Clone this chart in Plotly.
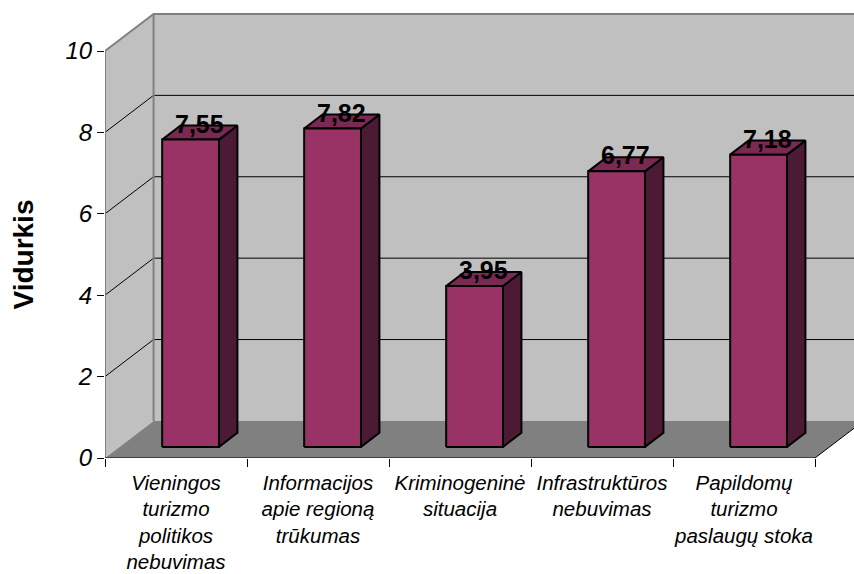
import plotly.graph_objects as go

# Chart data
categories = [
    "Vieningos<br>turizmo<br>politikos<br>nebuvimas",
    "Informacijos<br>apie regioną<br>trūkumas",
    "Kriminogeninė<br>situacija",
    "Infrastruktūros<br>nebuvimas",
    "Papildomų<br>turizmo<br>paslaugų stoka",
]
values = [7.55, 7.82, 3.95, 6.77, 7.18]
value_labels = ["7,55", "7,82", "3,95", "6,77", "7,18"]
y_ticks = [0, 2, 4, 6, 8, 10]
y_title = "Vidurkis"

# Oblique 3D projection, expressed in axis units
DX, DY = 0.342, 0.91          # full depth shift of the back wall
BAR_W = 0.4                   # bar width (category units)
D_FRONT, D_BACK = 0.30, 0.68  # bar depth span (fraction of full depth)
N = len(categories)
VMAX = y_ticks[-1]

W, H = 854, 574
ML, MB = 105, 116
X_RANGE = [0, (W - ML) / 142.0]
Y_RANGE = [0, (H - MB) / 40.7]

WALL = "#c0c0c0"
FLOOR = "#808080"
EDGE = "#808080"
FRONT = "#993366"
SIDE = "#4d1a35"
TOP = "#7a2952"
FONT = "Liberation Sans, Arial, sans-serif"

fig = go.Figure()


def poly(xs, ys, fill, line_color="black", line_width=0):
    fig.add_trace(go.Scatter(
        x=xs + [xs[0]], y=ys + [ys[0]], mode="lines", fill="toself",
        fillcolor=fill, line=dict(color=line_color, width=line_width),
        hoverinfo="skip", showlegend=False))


def lines(xs, ys, color, width):
    fig.add_trace(go.Scatter(
        x=xs, y=ys, mode="lines", line=dict(color=color, width=width),
        hoverinfo="skip", showlegend=False, connectgaps=False))


# back wall, left wall, floor
poly([DX, N + DX, N + DX, DX], [DY, DY, VMAX + DY, VMAX + DY], WALL)
poly([0, 0, DX, DX], [0, VMAX, VMAX + DY, DY], WALL)
poly([0, N, N + DX, DX], [0, 0, DY, DY], FLOOR)

# gridlines: diagonal on the side wall, horizontal on the back wall
gx, gy = [], []
for v in y_ticks[1:-1]:
    gx += [0, DX, N + DX, None]
    gy += [v, v + DY, v + DY, None]
lines(gx, gy, "black", 1)

# wall edges
lines([0, 0, DX, N + DX, None, DX, DX],
      [0, VMAX, VMAX + DY, VMAX + DY, None, VMAX + DY, DY], EDGE, 2)
# floor front and right edges
lines([0, N, N + DX], [0, 0, DY], "black", 1)

# bars
fx, fy = D_FRONT * DX, D_FRONT * DY
bx, by = D_BACK * DX, D_BACK * DY
for i, v in enumerate(values):
    c = i + 0.5
    x0, x1 = c - BAR_W / 2, c + BAR_W / 2
    poly([x1 + fx, x1 + bx, x1 + bx, x1 + fx],
         [fy, by, v + by, v + fy], SIDE, "black", 2)
    poly([x0 + fx, x1 + fx, x1 + bx, x0 + bx],
         [v + fy, v + fy, v + by, v + by], TOP, "black", 2)
    poly([x0 + fx, x1 + fx, x1 + fx, x0 + fx],
         [fy, fy, v + fy, v + fy], FRONT, "black", 2)
    mid = (D_FRONT + D_BACK) / 2
    fig.add_annotation(
        x=c + mid * DX, y=v + mid * DY, text=value_labels[i],
        showarrow=False, yshift=9, xanchor="center", yanchor="middle",
        font=dict(family=FONT, size=25, color="black", weight="bold"))

fig.add_annotation(
    xref="paper", yref="y", x=-(ML - 23) / (W - ML), y=VMAX / 2,
    text=y_title, textangle=-90, showarrow=False,
    xanchor="center", yanchor="middle",
    font=dict(family=FONT, size=28, color="black", weight="bold"))

fig.update_xaxes(
    range=X_RANGE, showgrid=False, zeroline=False, showline=False,
    tickmode="array", tickvals=[i + 0.5 for i in range(N)],
    ticktext=[f"<i>{c}</i>" for c in categories],
    ticks="", ticklabelstandoff=10,
    tickfont=dict(family=FONT, size=20.5, color="black"),
    minor=dict(tickmode="array", tickvals=list(range(N + 1)), ticks="outside",
               ticklen=8, tickwidth=1, tickcolor="black", showgrid=False),
    fixedrange=True)
fig.update_yaxes(
    range=Y_RANGE, showgrid=False, zeroline=False, showline=False,
    tickmode="array", tickvals=y_ticks,
    ticktext=[f"<i>{t}</i>" for t in y_ticks],
    ticks="outside", ticklen=7, tickwidth=1, tickcolor="black",
    tickfont=dict(family=FONT, size=24, color="black"),
    fixedrange=True)

fig.update_layout(
    width=W, height=H, margin=dict(l=ML, r=0, t=0, b=MB),
    paper_bgcolor="white", plot_bgcolor="white", showlegend=False)

fig.write_html("out.html")
